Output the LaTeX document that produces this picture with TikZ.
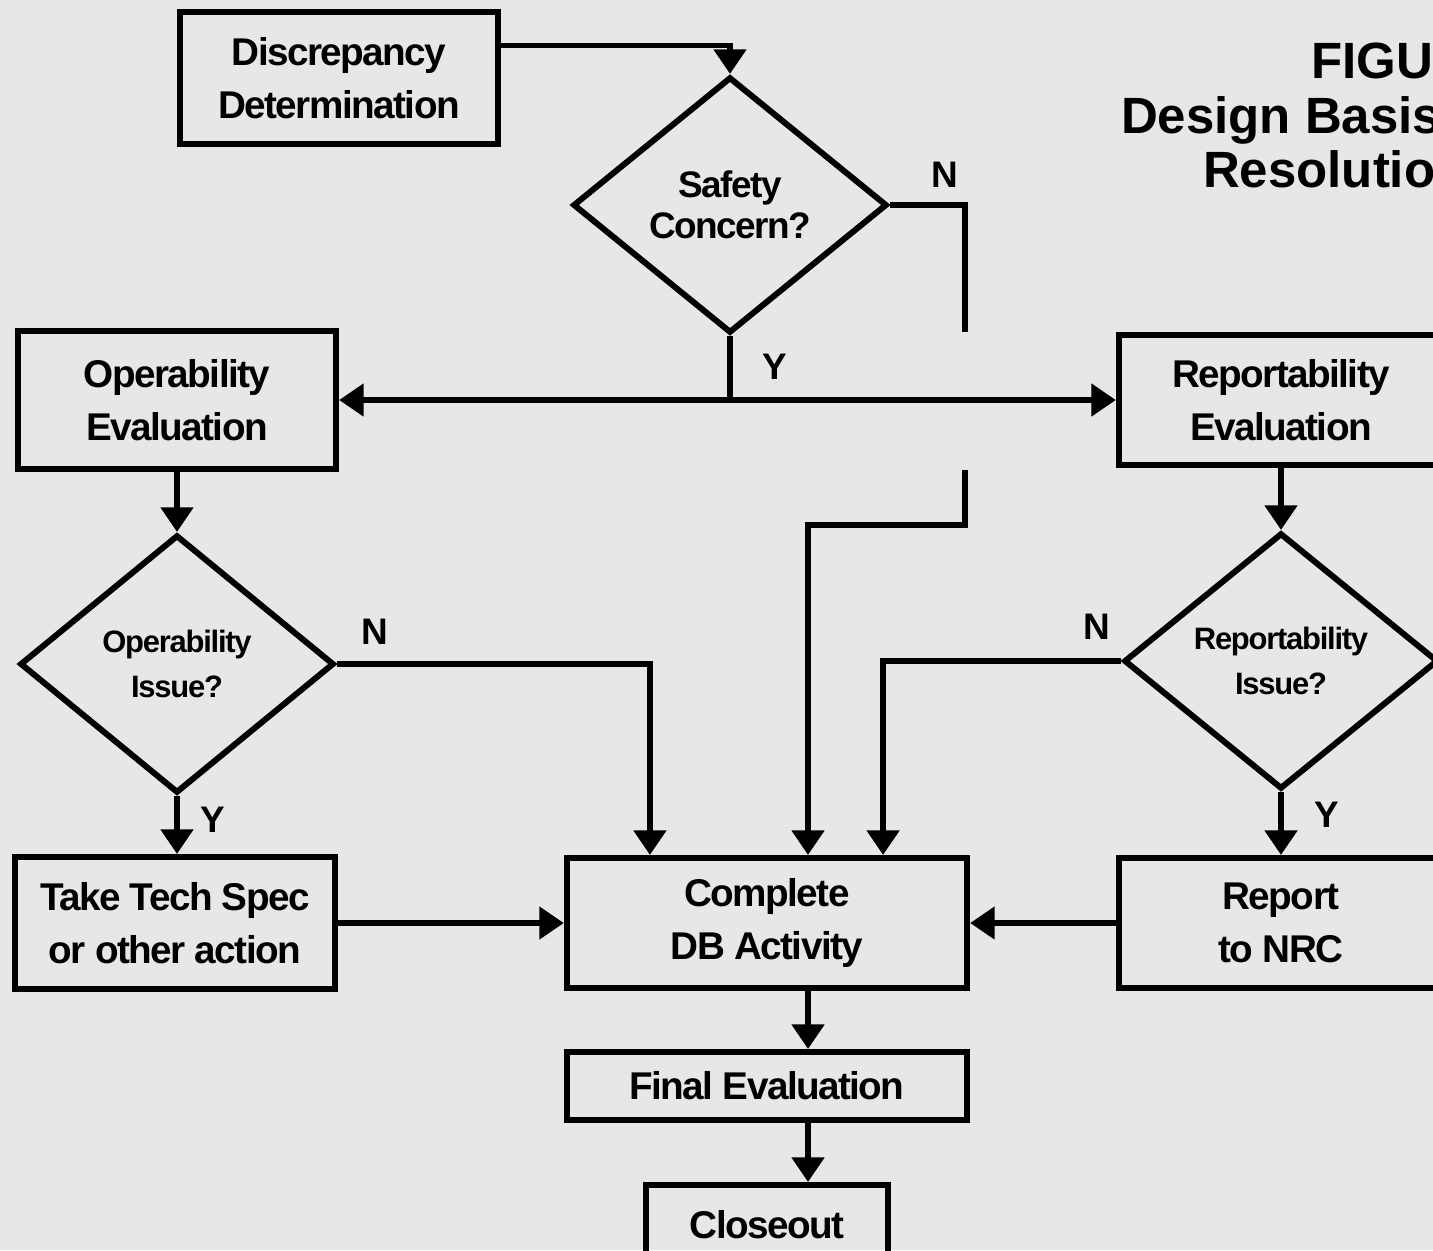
\documentclass[tikz,border=0pt]{standalone}
\usepackage{fontspec}
\setmainfont{Liberation Sans}
\newfontfamily\tightfont{Liberation Sans}[LetterSpace=-4]
\usetikzlibrary{shapes.geometric,arrows.meta}
\definecolor{paper}{RGB}{231,231,229}

\begin{document}
\begin{tikzpicture}[x=0.01cm,y=-0.01cm,line width=1.7pt,
		block/.style={draw,rectangle,align=center,inner sep=0pt,font=\tightfont\fontsize{11}{15}\selectfont\bfseries},
		decision/.style={draw,diamond,align=center,inner sep=0pt,minimum width=3.14cm,minimum height=2.56cm},
		yn/.style={font=\fontsize{10.5}{12}\selectfont\bfseries},
		title/.style={anchor=base west,inner sep=0pt,font=\fontsize{14.5}{18}\selectfont\bfseries},
		pfeil/.style={-{Triangle[width=9pt,length=7pt]}}]
	\fill[paper] (0,0) rectangle (1433,1250);
	\useasboundingbox (0,0) rectangle (1433,1250);
	\clip (0,0) rectangle (1433,1250);

	% title, cut off at the right edge
	\node[title] (fig) at (1308,78) {FIGU};
	\node[title] (design) at (1118,133) {Design Basis};
	\node[title] (resol) at (1200,187) {Resolutio};

	% boxes
	\node[block,minimum width=3.18cm,minimum height=1.31cm] (disc) at (339,78) {Discrepancy\\Determination};
	\node[block,minimum width=3.18cm,minimum height=1.38cm] (oper) at (177,400) {Operability\\Evaluation};
	\node[block,minimum width=3.24cm,minimum height=1.30cm] (repo) at (1281,400) {Reportability\\Evaluation};
	\node[block,minimum width=3.20cm,minimum height=1.32cm] (take) at (175,923) {Take Tech Spec\\or other action};
	\node[block,minimum width=4.00cm,minimum height=1.30cm] (compl) at (767,923) {Complete\\DB Activity};
	\node[block,minimum width=3.24cm,minimum height=1.30cm] (report) at (1281,923) {Report\\to NRC};
	\node[block,minimum width=4.00cm,minimum height=0.68cm] (final) at (767,1086) {Final Evaluation};
	\node[block,minimum width=2.41cm,minimum height=0.80cm] (close) at (767,1225) {Closeout};

	% decisions
	\node[decision,font=\tightfont\fontsize{10.5}{11.5}\selectfont\bfseries] (safety) at (730,205) {Safety\\Concern?};
	\node[decision,minimum height=2.58cm,font=\tightfont\fontsize{8.8}{13}\selectfont\bfseries] (opiss) at (177,664) {Operability\\Issue?};
	\node[decision,font=\tightfont\fontsize{8.8}{13}\selectfont\bfseries] (repiss) at (1281,661) {Reportability\\Issue?};

	% free ends of the broken N line
	\coordinate (ntop) at (965,332);
	\coordinate (nbot) at (965,470);
	\coordinate (nbend) at (965,525);
	\coordinate (yjoin) at (730,400);

	% connectors
	\draw[pfeil] ([yshift=0.325cm]disc.east) -| (safety.north);
	\draw (safety.east) -| (ntop);
	\draw[pfeil] (nbot) -- (nbend) -| ([xshift=0.41cm]compl.north);
	\draw (safety.south) -- (yjoin);
	\draw[pfeil] (yjoin) -- (oper.east);
	\draw[pfeil] (yjoin) -- (repo.west);
	\draw[pfeil] (oper.south) -- (opiss.north);
	\draw[pfeil] (opiss.south) -- (opiss.south |- take.north);
	\draw[pfeil] (opiss.east) -| ([xshift=-1.17cm]compl.north);
	\draw[pfeil] (take.east) -- (compl.west);
	\draw[pfeil] (repo.south) -- (repiss.north);
	\draw[pfeil] (repiss.west) -| ([xshift=1.16cm]compl.north);
	\draw[pfeil] (repiss.south) -- (report.north);
	\draw[pfeil] (report.west) -- (compl.east);
	\draw[pfeil] ([xshift=0.41cm]compl.south) -- ([xshift=0.41cm]final.north);
	\draw[pfeil] ([xshift=0.41cm]final.south) -- ([xshift=0.41cm]close.north);

	% Y / N labels
	\node[yn] (n1) at (945,175) {N};
	\node[yn] (y1) at (775,367) {Y};
	\node[yn] (n2) at (375,632) {N};
	\node[yn] (y2) at (213,820) {Y};
	\node[yn] (n3) at (1097,627) {N};
	\node[yn] (y3) at (1327,815) {Y};
\end{tikzpicture}
\end{document}
